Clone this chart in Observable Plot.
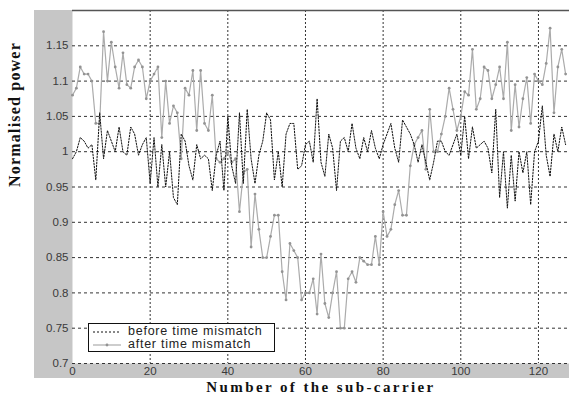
<!DOCTYPE html>
<html>
<head>
<meta charset="utf-8">
<script src="https://cdn.jsdelivr.net/npm/d3@7"></script>
<script src="https://cdn.jsdelivr.net/npm/@observablehq/plot@0.6"></script>
<style>
  html, body { margin: 0; padding: 0; background: #fff; }
  #wrap { position: relative; width: 569px; height: 402px; overflow: hidden; }
  #bg { position: absolute; left: 34px; top: 10px; width: 535px; height: 368px; background: #c6c6c6; }
  #chart { position: absolute; left: 0; top: 0; }
  #legend { position: absolute; left: 88px; top: 323px; width: 185px; height: 27px; border: 1px solid #111; background: #fff;
            font-family: "Liberation Sans", Arial, sans-serif; font-size: 12.5px; color: #222; letter-spacing: 0.75px; }
  .row { position: absolute; left: 0; height: 14px; width: 100%; }
  .row svg { position: absolute; left: 3px; top: 0; }
  .row span { position: absolute; left: 39px; top: -1px; line-height: 14px; }
</style>
</head>
<body>
<div id="wrap">
  <div id="bg"></div>
  <div id="chart"></div>
  <div id="legend"></div>
</div>
<script>
const xTicks = [0, 20, 40, 60, 80, 100, 120];
const yTicks = [0.7, 0.75, 0.8, 0.85, 0.9, 0.95, 1, 1.05, 1.1, 1.15];
const seriesNames = ["before time mismatch", "after time mismatch"];

// before time mismatch (dotted black)
const before = [
  0.99, 1.0, 1.02, 1.015, 1.005, 1.01, 0.96, 1.055, 0.99, 1.03,
  1.015, 1.0, 1.035, 1.0, 0.995, 1.035, 1.025, 0.995, 1.01, 1.02,
  0.955, 1.02, 0.95, 1.01, 0.95, 1.0, 0.935, 0.925, 1.025, 1.015,
  0.98, 0.96, 1.01, 0.99, 0.995, 0.99, 0.945, 0.995, 1.015, 0.945,
  1.05, 0.98, 0.955, 1.055, 0.955, 1.06, 0.99, 0.955, 0.995, 1.015,
  1.055, 1.045, 0.96, 1.0, 0.95, 1.025, 1.04, 1.04, 0.975, 0.98,
  1.01, 1.015, 0.985, 1.075, 0.985, 0.965, 1.025, 1.005, 0.945, 1.015,
  1.02, 1.0, 1.04, 1.005, 0.99, 1.02, 1.0, 1.03, 1.005, 0.99,
  1.01, 1.025, 1.04, 1.005, 0.985, 1.045, 1.035, 1.025, 1.01, 0.985,
  1.01, 0.985, 0.96, 0.985, 1.015, 1.015, 1.0, 0.995, 1.01, 1.025,
  0.995, 1.05, 0.99, 1.035, 1.005, 1.01, 1.015, 1.005, 0.97, 1.06,
  0.935, 1.0, 0.92, 0.995, 0.93, 1.0, 0.97, 1.0, 0.925, 1.0,
  1.015, 1.065, 0.995, 0.965, 1.025, 1.0, 1.035, 1.01
];

// after time mismatch (grey with markers)
const after = [
  1.08, 1.09, 1.12, 1.11, 1.11, 1.10, 1.04, 1.04, 1.17, 1.10,
  1.155, 1.12, 1.09, 1.14, 1.095, 1.09, 1.12, 1.13, 1.12, 1.075,
  1.10, 1.11, 1.12, 1.02, 1.10, 1.04, 1.065, 1.055, 0.99, 1.09,
  1.08, 1.115, 1.03, 1.115, 1.04, 1.03, 1.08, 0.99, 0.985, 0.99,
  1.0, 0.985, 0.99, 0.915, 0.97, 0.975, 0.865, 0.94, 0.89, 0.85,
  0.85, 0.88, 0.91, 0.91, 0.83, 0.79, 0.87, 0.86, 0.85, 0.79,
  0.80, 0.80, 0.82, 0.77, 0.855, 0.785, 0.765, 0.80, 0.83, 0.75,
  0.75, 0.82, 0.83, 0.815, 0.85, 0.845, 0.84, 0.84, 0.88, 0.84,
  0.915, 0.88, 0.89, 0.925, 0.945, 0.91, 0.91, 0.98, 1.01, 1.02,
  1.03, 0.975, 1.06, 1.0, 1.0, 1.025, 1.05, 1.09, 1.06, 1.03,
  1.05, 1.085, 1.08, 1.145, 1.06, 1.075, 1.12, 1.115, 1.075, 1.095,
  1.12, 1.075, 1.155, 1.03, 1.095, 1.035, 1.075, 1.105, 1.04, 1.11,
  1.10, 1.095, 1.125, 1.175, 1.055, 1.12, 1.145, 1.11
];

const fmt = d => String(+d.toFixed(2));
const serif = "'Liberation Serif', 'Times New Roman', serif";

const plot = Plot.plot({
  width: 569,
  height: 402,
  marginLeft: 72,
  marginRight: 0,
  marginTop: 10,
  marginBottom: 39,
  style: { background: "transparent", fontFamily: "'Liberation Sans', Arial, sans-serif", fontSize: "11.5px", color: "#3a3a3a", overflow: "visible" },
  x: { domain: [0, 128] },
  y: { domain: [0.7, 1.2] },
  marks: [
    Plot.frame({ fill: "white", stroke: null }),
    Plot.ruleY(yTicks, { stroke: "#333", strokeWidth: 1, strokeDasharray: "3,3" }),
    Plot.ruleX(xTicks.slice(1), { stroke: "#333", strokeWidth: 1, strokeDasharray: "2,2" }),
    Plot.ruleY([1.2], { stroke: "#555", strokeWidth: 1.5 }),
    Plot.line(after, { x: (d, i) => i, y: d => d, stroke: "#ababab", strokeWidth: 1.2 }),
    Plot.dot(after, { x: (d, i) => i, y: d => d, r: 1.4, fill: "#939393", stroke: null }),
    Plot.line(before, { x: (d, i) => i, y: d => d, stroke: "#111", strokeWidth: 1, strokeDasharray: "1.5,1.5" }),
    Plot.axisX({ ticks: xTicks, tickSize: 0, tickPadding: 3, label: null, tickFormat: d => String(d) }),
    Plot.axisY({ ticks: yTicks, tickSize: 0, tickPadding: 4, label: null, tickFormat: fmt }),
    Plot.text(["Number of the sub-carrier"], { text: d => d, frameAnchor: "bottom", dy: 28, fontFamily: serif, fontWeight: "bold", fontSize: 15, fill: "#111" }),
    Plot.text(["Normalised power"], { text: d => d, frameAnchor: "left", dx: -58, rotate: -90, fontFamily: serif, fontWeight: "bold", fontSize: 16, fill: "#111" })
  ]
});

d3.select(plot).selectAll("text").filter(function () { return this.textContent === "Number of the sub-carrier"; })
  .attr("letter-spacing", "2.4");
d3.select(plot).selectAll("text").filter(function () { return this.textContent === "Normalised power"; })
  .attr("letter-spacing", "1.2");

document.getElementById("chart").appendChild(plot);

// legend
const legend = d3.select("#legend");
const r1 = legend.append("div").attr("class", "row").style("top", "1px");
const s1 = r1.append("svg").attr("width", 30).attr("height", 14);
s1.append("line").attr("x1", 1).attr("x2", 29).attr("y1", 7).attr("y2", 7)
  .attr("stroke", "#111").attr("stroke-dasharray", "2,2");
r1.append("span").text(seriesNames[0]);

const r2 = legend.append("div").attr("class", "row").style("top", "14px");
const s2 = r2.append("svg").attr("width", 30).attr("height", 14);
s2.append("line").attr("x1", 1).attr("x2", 29).attr("y1", 7).attr("y2", 7)
  .attr("stroke", "#ababab").attr("stroke-width", 1.2);
s2.append("circle").attr("cx", 15).attr("cy", 7).attr("r", 1.4).attr("fill", "#939393");
r2.append("span").text(seriesNames[1]);
</script>
</body>
</html>
